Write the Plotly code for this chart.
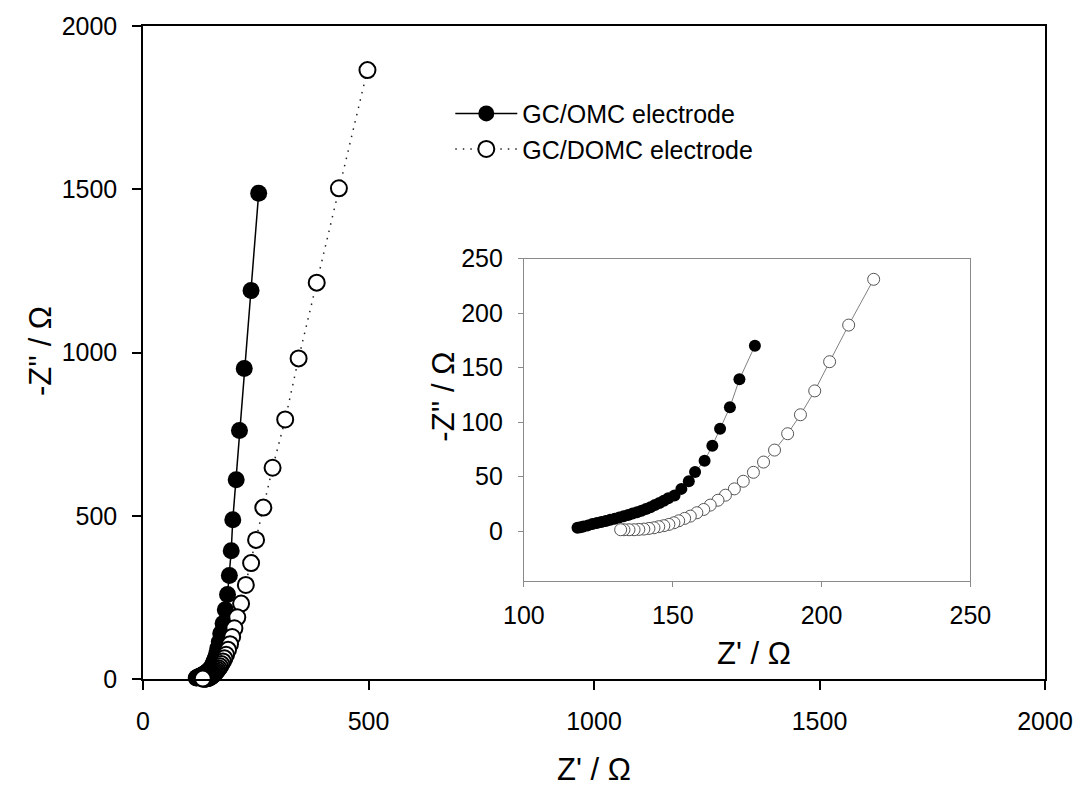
import plotly.graph_objects as go

# GC/OMC electrode (filled)  Z' (ohm), -Z'' (ohm)
zr_omc = [256.5, 239.6, 224.5, 213.9, 206.6, 199.1, 195.6, 191.5, 187.4, 182.5,
          177.6, 172.4, 169.2, 165.9, 163.3, 160.7, 157.5, 155.4, 152.9, 150.6,
          148.5, 147.0, 145.5, 144.0, 142.5, 141.0, 139.5, 138.0, 136.5, 135.0,
          133.5, 132.0, 130.5, 129.0, 127.5, 126.0, 124.5, 123.0, 121.5, 120.0,
          119.0, 118.0]
zi_omc = [1488, 1190, 951, 761, 610, 488, 393, 317, 259, 212,
          170, 139.2, 113.6, 93.9, 78.3, 64.6, 54.2, 45.7, 38.7, 32.6,
          30.0, 27.8, 25.8, 23.8, 21.8, 20.2, 18.6, 17.3, 16.0, 14.8,
          13.6, 12.4, 11.3, 10.3, 9.3, 8.3, 7.4, 6.4, 5.2, 4.2,
          3.5, 3.0]

# GC/DOMC electrode (open)
zr_domc = [497.7, 434.4, 385.2, 345.0, 315.3, 287.3, 266.8, 250.7, 239.7, 228.0,
           217.5, 209.1, 202.7, 197.7, 192.9, 188.6, 184.2, 180.5, 177.1, 173.7,
           170.7, 167.7, 165.2, 162.6, 160.4, 158.1, 155.9, 154.0, 152.0, 150.4,
           148.7, 147.0, 145.3, 143.7, 142.0, 140.3, 138.6, 137.0, 135.3, 133.6,
           132.5]
zi_domc = [1865, 1503, 1214, 982, 795, 647, 525, 426, 355, 288,
           231, 189, 155.4, 128.6, 106.7, 89.3, 74.3, 63.3, 53.9, 45.7,
           38.7, 32.9, 28.3, 23.8, 19.8, 16.8, 13.7, 11.6, 9.4, 7.6,
           6.1, 4.9, 4.0, 3.0, 2.4, 1.8, 1.5, 1.2, 1.2, 1.2,
           1.2]

# inset shows the high-frequency part only
inset_start_omc = 10
inset_start_domc = 10

main_ticks = [0, 500, 1000, 1500, 2000]
inset_xticks = [100, 150, 200, 250]
inset_yticks = [0, 50, 100, 150, 200, 250]

FONT = "Arial, Liberation Sans, sans-serif"

fig = go.Figure()

fig.add_trace(go.Scatter(
    x=zr_omc, y=zi_omc, name="GC/OMC electrode", mode="lines+markers",
    line=dict(color="black", width=1.5),
    marker=dict(symbol="circle", size=17, color="black", line=dict(width=0)),
    cliponaxis=False, xaxis="x", yaxis="y"))
fig.add_trace(go.Scatter(
    x=zr_domc, y=zi_domc, name="GC/DOMC electrode", mode="lines+markers",
    line=dict(color="#222222", width=1.5, dash="1.5px,6px"),
    marker=dict(symbol="circle", size=16, color="white", line=dict(color="black", width=2)),
    cliponaxis=False, xaxis="x", yaxis="y"))

fig.add_trace(go.Scatter(
    x=zr_omc[inset_start_omc:], y=zi_omc[inset_start_omc:], mode="lines+markers",
    line=dict(color="#808080", width=1),
    marker=dict(symbol="circle", size=12, color="black", line=dict(width=0)),
    showlegend=False, xaxis="x2", yaxis="y2"))
fig.add_trace(go.Scatter(
    x=zr_domc[inset_start_domc:], y=zi_domc[inset_start_domc:], mode="lines+markers",
    line=dict(color="#808080", width=1),
    marker=dict(symbol="circle", size=12, color="white", line=dict(color="#555555", width=1)),
    showlegend=False, xaxis="x2", yaxis="y2"))

main_ax = dict(showline=True, linecolor="black", linewidth=1.5, mirror=True,
               ticks="outside", ticklen=9, tickwidth=1.5, tickcolor="black",
               showgrid=False, zeroline=False, tickfont=dict(size=25, color="black"))
inset_ax = dict(showline=True, linecolor="#8a8a8a", linewidth=1, mirror=True,
                ticks="outside", ticklen=5, tickwidth=1, tickcolor="#8a8a8a",
                showgrid=False, zeroline=False, tickfont=dict(size=25, color="black"))

# axis-title positions given in pixels, converted to paper coordinates below
L, T, W, H = 143, 23, 907, 656
titles = [
    ("Z' / Ω", 597, 770, 0),
    ("-Z'' / Ω", 40, 350, -90),
    ("Z' / Ω", 757, 653, 0),
    ("-Z'' / Ω", 445, 395, -90),
]
annotations = [
    dict(text=t, x=(px - L) / W, y=(T + H - py) / H, xref="paper", yref="paper",
         xanchor="center", yanchor="middle", showarrow=False, textangle=ang,
         font=dict(size=31, color="black"))
    for t, px, py, ang in titles
]

fig.update_layout(
    width=1085, height=790,
    margin=dict(l=143, r=35, t=23, b=111),
    paper_bgcolor="white", plot_bgcolor="white",
    font=dict(family=FONT, color="black"),
    xaxis=dict(range=[0, 2000], tickvals=main_ticks, ticklabelstandoff=10, **main_ax),
    yaxis=dict(range=[0, 2000], tickvals=main_ticks, ticklabelstandoff=10, **main_ax),
    xaxis2=dict(domain=[0.4223, 0.9173], anchor="y2", range=[100, 250],
                tickvals=inset_xticks, ticklabelstandoff=7, **inset_ax),
    yaxis2=dict(domain=[0.1498, 0.6438], anchor="x2", range=[-46, 250],
                tickvals=inset_yticks, ticklabelstandoff=10, **inset_ax),
    legend=dict(x=(452 - L) / W, y=(T + H - 88) / H, xanchor="left", yanchor="top",
                bgcolor="rgba(0,0,0,0)", font=dict(size=25, color="black"),
                itemsizing="trace", itemwidth=62, tracegroupgap=0),
    annotations=annotations,
)

fig.write_html("out.html")
